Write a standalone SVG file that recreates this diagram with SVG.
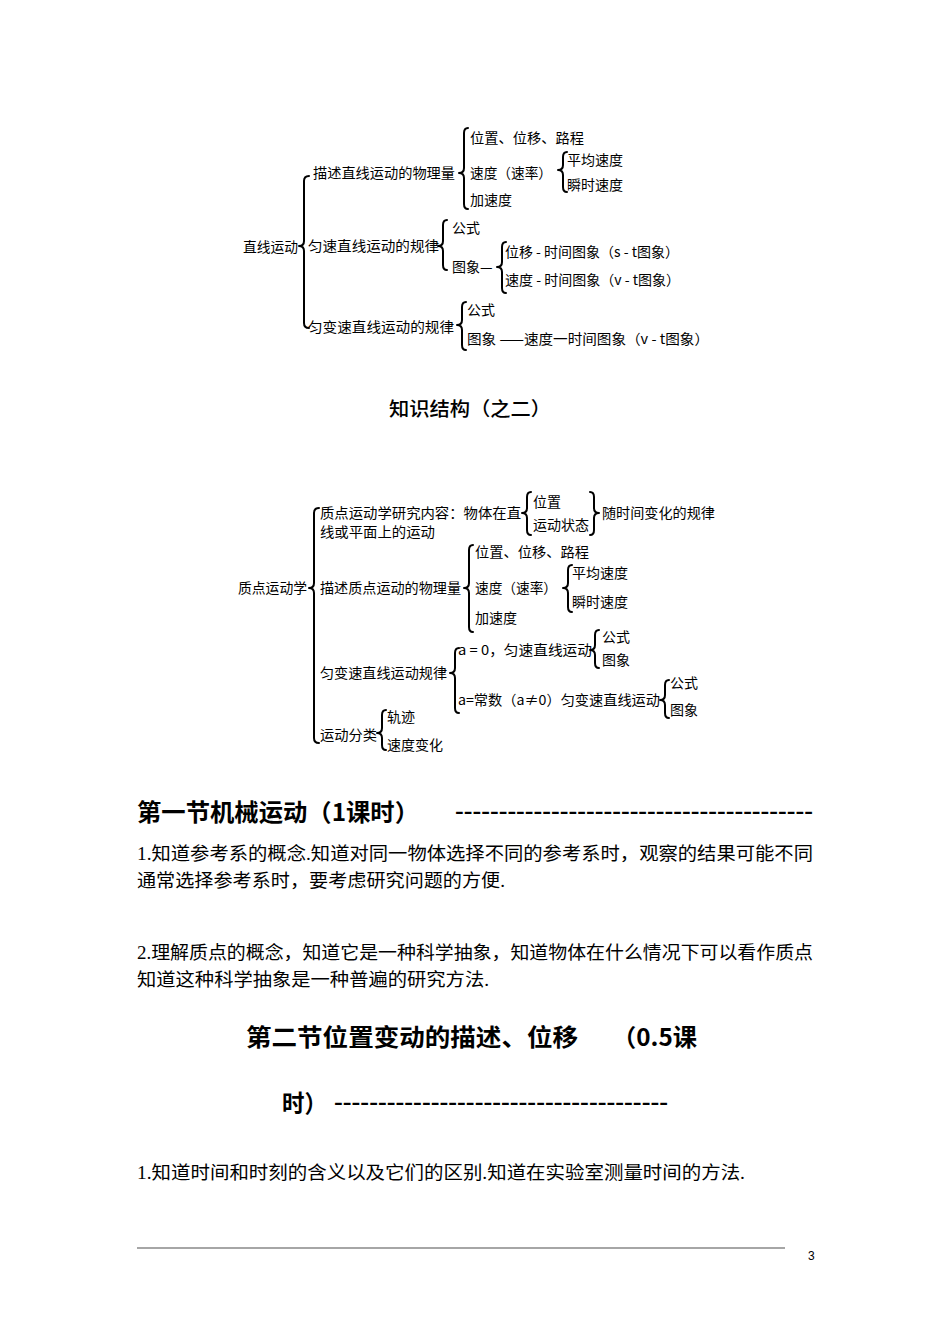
<svg xmlns="http://www.w3.org/2000/svg" width="950" height="1344" viewBox="0 0 950 1344">
<style>
.t{font-family:"Noto Sans CJK SC","Liberation Sans",sans-serif;font-size:14px;fill:#000}
.ti{font-family:"Noto Sans CJK SC","Liberation Sans",sans-serif;font-size:19px;fill:#000;font-weight:500}
.h{font-family:"Noto Sans CJK SC","Liberation Sans",sans-serif;font-size:24px;font-weight:700;fill:#000}
.d{font-family:"Liberation Sans",sans-serif;font-size:18px;font-weight:700;fill:#000}
.p{font-family:"Liberation Serif","Noto Sans CJK SC",serif;font-size:18.5px;fill:#000}
.br{fill:none;stroke:#000;stroke-width:2;stroke-linecap:round;stroke-linejoin:round}
.pn{font-family:"Liberation Sans",sans-serif;font-size:12px;fill:#000}
</style>
<rect width="950" height="1344" fill="#fff"/>

<!-- Diagram 1 connectors (braces) -->
<g id="connectors1" class="br">
<path d="M309,176 Q304,176 304,181 L304,241 Q304,246 299,246 Q304,246 304,251 L304,323 Q304,328 309,328"/>
<path d="M468,128 Q464,128 464,133 L464,168 Q464,173 459,173 Q464,173 464,178 L464,204 Q464,209 468,209"/>
<path d="M567,152 Q563,152 563,157 L563,165 Q563,170 558,170 Q563,170 563,175 L563,187 Q563,192 567,192"/>
<path d="M447,220 Q443,220 443,225 L443,241 Q443,246 438,246 Q443,246 443,251 L443,265 Q443,270 447,270"/>
<path d="M506,242 Q502,242 502,247 L502,262 Q502,267 497,267 Q502,267 502,272 L502,288 Q502,293 506,293"/>
<path d="M466,302 Q462,302 462,307 L462,320 Q462,325 457,325 Q462,325 462,330 L462,345 Q462,350 466,350"/>
</g>

<g id="n-zhixian"><text class="t" x="243" y="252" textLength="55" lengthAdjust="spacingAndGlyphs">直线运动</text></g>
<g id="n-miaoshu1"><text class="t" x="313" y="178" textLength="142" lengthAdjust="spacingAndGlyphs">描述直线运动的物理量</text></g>
<g id="n-weizhi1"><text class="t" x="470" y="143" textLength="114" lengthAdjust="spacingAndGlyphs">位置、位移、路程</text></g>
<g id="n-sudu1"><text class="t" x="470" y="178" textLength="82" lengthAdjust="spacingAndGlyphs">速度（速率）</text></g>
<g id="n-pingjun1"><text class="t" x="567" y="165">平均速度</text></g>
<g id="n-shunshi1"><text class="t" x="567" y="190">瞬时速度</text></g>
<g id="n-jiasudu1"><text class="t" x="470" y="205">加速度</text></g>
<g id="n-yunsu1"><text class="t" x="308" y="251" textLength="131" lengthAdjust="spacingAndGlyphs">匀速直线运动的规律</text></g>
<g id="n-gongshi1"><text class="t" x="452" y="233">公式</text></g>
<g id="n-tuxiang1"><text class="t" x="452" y="272">图象—</text></g>
<g id="n-st"><text class="t" x="505" y="257" textLength="174" lengthAdjust="spacingAndGlyphs">位移 - 时间图象（s - t图象）</text></g>
<g id="n-vt"><text class="t" x="505" y="285" textLength="175" lengthAdjust="spacingAndGlyphs">速度 - 时间图象（v - t图象）</text></g>
<g id="n-yunbian1"><text class="t" x="308" y="332" textLength="146" lengthAdjust="spacingAndGlyphs">匀变速直线运动的规律</text></g>
<g id="n-gongshi2"><text class="t" x="467" y="315">公式</text></g>
<g id="n-tuxiang2"><text class="t" x="467" y="344" textLength="242" lengthAdjust="spacingAndGlyphs">图象 ——速度一时间图象（v - t图象）</text></g>

<g id="title2"><text class="ti" x="389" y="416" textLength="162" lengthAdjust="spacingAndGlyphs">知识结构（之二）</text></g>

<!-- Diagram 2 connectors (braces) -->
<g id="connectors2" class="br">
<path d="M319,508 Q314,508 314,513 L314,583 Q314,588 309,588 Q314,588 314,593 L314,738 Q314,743 319,743"/>
<path d="M531,492 Q527,492 527,497 L527,508 Q527,513 522,513 Q527,513 527,518 L527,530 Q527,535 531,535"/>
<path d="M590,492 Q594,492 594,497 L594,508 Q594,513 599,513 Q594,513 594,518 L594,530 Q594,535 590,535"/>
<path d="M473,545 Q469,545 469,550 L469,583 Q469,588 464,588 Q469,588 469,593 L469,627 Q469,632 473,632"/>
<path d="M572,565 Q568,565 568,570 L568,583 Q568,588 563,588 Q568,588 568,593 L568,607 Q568,612 572,612"/>
<path d="M459,648 Q455,648 455,653 L455,668 Q455,673 450,673 Q455,673 455,678 L455,708 Q455,713 459,713"/>
<path d="M599,630 Q595,630 595,635 L595,645 Q595,650 590,650 Q595,650 595,655 L595,663 Q595,668 599,668"/>
<path d="M669,680 Q665,680 665,685 L665,695 Q665,700 660,700 Q665,700 665,705 L665,713 Q665,718 669,718"/>
<path d="M386,710 Q382,710 382,715 L382,728 Q382,733 377,733 Q382,733 382,738 L382,745 Q382,750 386,750"/>
</g>

<g id="n-zhidian"><text class="t" x="238" y="593" textLength="69" lengthAdjust="spacingAndGlyphs">质点运动学</text></g>
<g id="n-yanjiu"><text class="t" x="320" y="518" textLength="201" lengthAdjust="spacingAndGlyphs">质点运动学研究内容：物体在直</text><text class="t" x="320" y="537" textLength="115" lengthAdjust="spacingAndGlyphs">线或平面上的运动</text></g>
<g id="n-weizhi2"><text class="t" x="533" y="507">位置</text></g>
<g id="n-zhuangtai"><text class="t" x="533" y="530" textLength="56" lengthAdjust="spacingAndGlyphs">运动状态</text></g>
<g id="n-suishijian"><text class="t" x="602" y="518" textLength="113" lengthAdjust="spacingAndGlyphs">随时间变化的规律</text></g>
<g id="n-miaoshu2"><text class="t" x="320" y="593" textLength="141" lengthAdjust="spacingAndGlyphs">描述质点运动的物理量</text></g>
<g id="n-weizhi3"><text class="t" x="475" y="557" textLength="114" lengthAdjust="spacingAndGlyphs">位置、位移、路程</text></g>
<g id="n-sudu2"><text class="t" x="475" y="593" textLength="82" lengthAdjust="spacingAndGlyphs">速度（速率）</text></g>
<g id="n-pingjun2"><text class="t" x="572" y="578">平均速度</text></g>
<g id="n-shunshi2"><text class="t" x="572" y="607">瞬时速度</text></g>
<g id="n-jiasudu2"><text class="t" x="475" y="623">加速度</text></g>
<g id="n-yunbian2"><text class="t" x="320" y="678" textLength="127" lengthAdjust="spacingAndGlyphs">匀变速直线运动规律</text></g>
<g id="n-a0"><text class="t" x="458" y="655" textLength="134" lengthAdjust="spacingAndGlyphs">a = 0，匀速直线运动</text></g>
<g id="n-gongshi3"><text class="t" x="602" y="642">公式</text></g>
<g id="n-tuxiang3"><text class="t" x="602" y="665">图象</text></g>
<g id="n-achang"><text class="t" x="458" y="705" textLength="202" lengthAdjust="spacingAndGlyphs">a=常数（a≠0）匀变速直线运动</text></g>
<g id="n-gongshi4"><text class="t" x="670" y="688">公式</text></g>
<g id="n-tuxiang4"><text class="t" x="670" y="715">图象</text></g>
<g id="n-fenlei"><text class="t" x="320" y="740" textLength="57" lengthAdjust="spacingAndGlyphs">运动分类</text></g>
<g id="n-guiji"><text class="t" x="387" y="722">轨迹</text></g>
<g id="n-suduchange"><text class="t" x="387" y="750">速度变化</text></g>

<!-- Section 1 -->
<g id="heading1">
<text class="h" x="137" y="821" textLength="282" lengthAdjust="spacingAndGlyphs">第一节机械运动（1课时）</text>
<text class="d" x="455" y="818" textLength="358" lengthAdjust="spacingAndGlyphs">-----------------------------------------</text>
</g>
<g id="para1">
<text class="p" x="137" y="860" textLength="676" lengthAdjust="spacingAndGlyphs">1.知道参考系的概念.知道对同一物体选择不同的参考系时，观察的结果可能不同</text>
<text class="p" x="137" y="887" textLength="368" lengthAdjust="spacingAndGlyphs">通常选择参考系时，要考虑研究问题的方便.</text>
</g>
<g id="para2">
<text class="p" x="137" y="959" textLength="676" lengthAdjust="spacingAndGlyphs">2.理解质点的概念，知道它是一种科学抽象，知道物体在什么情况下可以看作质点</text>
<text class="p" x="137" y="986" textLength="352" lengthAdjust="spacingAndGlyphs">知道这种科学抽象是一种普遍的研究方法.</text>
</g>

<!-- Section 2 -->
<g id="heading2">
<text class="h" x="246" y="1046" textLength="332" lengthAdjust="spacingAndGlyphs">第二节位置变动的描述、位移</text>
<text class="h" x="612" y="1046" textLength="85" lengthAdjust="spacingAndGlyphs">（0.5课</text>
<text class="h" x="282" y="1112" textLength="45" lengthAdjust="spacingAndGlyphs">时）</text>
<text class="d" x="334" y="1109" textLength="334" lengthAdjust="spacingAndGlyphs">--------------------------------------</text>
</g>
<g id="para3">
<text class="p" x="137" y="1179" textLength="608" lengthAdjust="spacingAndGlyphs">1.知道时间和时刻的含义以及它们的区别.知道在实验室测量时间的方法.</text>
</g>

<!-- Footer -->
<g id="footer">
<line x1="137" y1="1248" x2="785" y2="1248" stroke="#888" stroke-width="1.5"/>
<text class="pn" x="808" y="1260">3</text>
</g>
</svg>
